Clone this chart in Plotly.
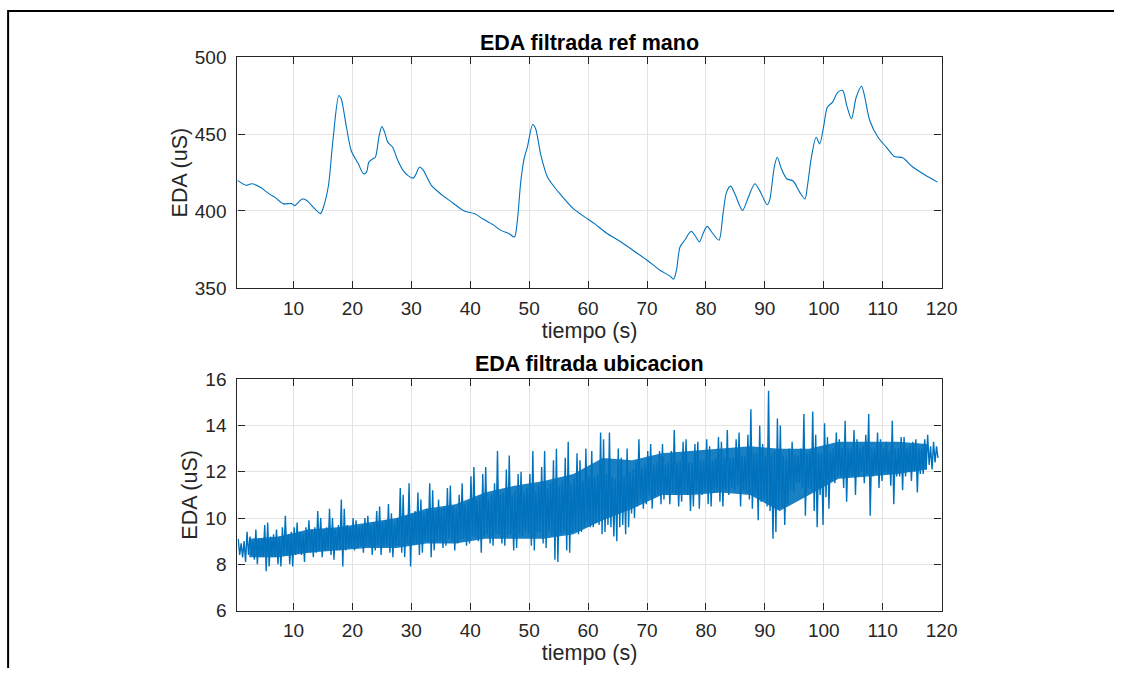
import plotly.graph_objects as go

# --- EDA from the hand reference sensor (smooth filtered signal) ---
t_mano = [0.5, 2.0, 2.9, 4.3, 6.0, 6.8, 8.25, 9.7, 10.2, 11.5, 12.2, 13.6, 14.6, 15.0,
          15.9, 16.7, 17.7, 18.1, 19.0, 19.8, 21.0, 21.9, 22.4, 22.8, 23.5, 23.9, 24.5,
          25.0, 25.5, 26.0, 26.8, 27.7, 28.6, 29.4, 30.3, 30.7, 31.4, 32.0, 33.4, 35.3,
          37.0, 39.0, 40.7, 42.1, 43.8, 45.2, 46.6, 47.5, 48.0, 48.6, 49.2, 49.7, 50.6,
          51.1, 52.0, 53.1, 54.5, 55.2, 57.5, 60.0, 61.1, 63.1, 65.4, 67.6, 70.0, 72.2,
          73.9, 74.5, 75.0, 75.6, 76.4, 77.5, 78.3, 78.9, 79.5, 80.2, 81.2, 82.2, 82.9,
          83.5, 84.2, 84.9, 86.2, 87.1, 88.3, 89.1, 90.4, 90.8, 91.6, 92.1, 92.8, 93.7,
          94.8, 95.9, 96.8, 97.2, 97.9, 98.7, 99.3, 100.0, 100.6, 101.5, 102.3, 103.2,
          103.9, 104.7, 105.5, 106.4, 106.9, 107.8, 109.2, 110.6, 112.0, 113.4, 115.1,
          117.1, 119.3]
eda_mano = [419.9, 416.7, 417.7, 415.6, 410.8, 409.0, 404.8, 404.8, 403.5, 407.8, 407.0,
            401.5, 398.3, 401.5, 415.6, 445.9, 475.1, 473.0, 454.5, 439.4, 430.7, 424.2,
            425.3, 431.8, 434.0, 435.0, 448.0, 455.0, 451.0, 444.8, 441.6, 433.0, 426.4,
            423.2, 421.4, 423.2, 428.6, 426.8, 416.7, 410.2, 405.4, 400.0, 398.3, 395.0,
            391.3, 387.4, 385.2, 383.1, 393.9, 419.9, 435.0, 441.6, 456.3, 453.5, 436.1,
            422.1, 414.5, 411.3, 401.5, 394.6, 391.8, 385.7, 380.3, 374.5, 368.0, 361.5,
            357.6, 355.6, 361.5, 376.6, 381.0, 386.8, 383.1, 379.9, 385.2, 390.0, 385.2,
            381.0, 398.3, 412.3, 416.2, 411.3, 400.4, 408.0, 417.7, 413.4, 404.1, 406.9,
            428.6, 435.0, 427.5, 421.0, 419.5, 412.3, 407.8, 415.6, 435.0, 448.0, 443.7,
            455.6, 467.5, 470.8, 476.8, 478.4, 468.6, 460.0, 474.0, 481.2, 475.1, 458.9,
            448.0, 441.6, 435.5, 434.6, 428.6, 423.6, 418.8]

# --- EDA from the location sensor: peak and trough of every half second (s = 1..119) ---
ubic_max = [9.1, 8.9, 9.0, 9.4, 9.2, 9.0, 9.5, 9.1, 9.1, 9.7, 9.8, 9.2, 9.3, 9.5, 9.2, 9.6,
            10.1, 9.3, 9.4, 9.6, 9.8, 9.4, 9.3, 9.6, 9.9, 9.5, 9.6, 10.3, 10.0, 9.5, 9.6, 10.4,
            10.0, 9.5, 9.7, 10.8, 10.4, 9.7, 9.6, 10.0, 9.9, 9.6, 9.7, 10.0, 10.1, 9.7, 9.8, 10.3,
            10.5, 9.8, 9.9, 10.6, 10.2, 9.8, 10.0, 11.3, 11.0, 10.1, 11.5, 10.2, 10.3, 11.1, 10.8, 10.2,
            10.4, 11.5, 11.2, 10.3, 10.8, 10.4, 10.5, 11.3, 11.4, 10.5, 10.4, 11.0, 11.5, 10.6, 10.7, 11.8,
            12.2, 10.8, 10.9, 11.9, 12.2, 10.8, 11.0, 11.5, 12.9, 11.0, 11.1, 12.1, 12.7, 11.0, 11.2, 11.9,
            12.0, 11.1, 11.3, 11.9, 12.9, 11.2, 11.4, 12.2, 12.9, 11.3, 11.5, 12.5, 13.0, 11.4, 11.6, 12.6,
            13.3, 11.5, 11.7, 12.8, 12.5, 11.6, 13.0, 11.8, 12.9, 11.8, 11.9, 13.7, 13.4, 11.9, 13.7, 11.8,
            11.7, 13.0, 12.6, 11.8, 13.0, 12.0, 12.1, 12.4, 13.4, 12.2, 12.3, 12.9, 13.2, 12.3, 12.4, 12.9,
            13.2, 12.3, 12.4, 12.9, 13.8, 12.4, 12.5, 13.3, 13.4, 12.4, 12.4, 13.2, 13.3, 12.5, 12.5, 13.4,
            13.1, 12.5, 12.6, 13.5, 13.3, 12.6, 13.8, 12.6, 12.6, 13.4, 13.7, 12.7, 12.7, 13.6, 14.7, 12.8,
            12.8, 14.0, 13.2, 12.7, 15.5, 12.8, 12.9, 14.3, 14.0, 12.7, 12.6, 13.0, 13.3, 12.7, 12.7, 13.0,
            14.5, 12.8, 12.9, 14.6, 13.6, 12.8, 12.8, 14.1, 13.5, 12.9, 13.0, 13.7, 13.4, 13.0, 14.2, 13.0,
            13.0, 13.8, 13.4, 13.0, 13.1, 13.6, 14.5, 13.0, 13.0, 13.7, 13.4, 13.0, 13.3, 12.9, 14.2, 13.0,
            13.0, 13.5, 13.5, 13.0, 13.1, 13.3, 13.4, 13.0, 13.0, 13.4, 13.6, 13.1, 13.3, 13.1]
ubic_min = [8.4, 8.3, 8.1, 8.4, 8.4, 8.2, 8.0, 8.3, 8.3, 7.7, 7.9, 8.3, 8.3, 8.0, 7.9, 8.4,
            8.4, 8.0, 7.9, 8.4, 8.5, 8.4, 8.1, 8.5, 8.5, 8.3, 8.5, 8.6, 8.3, 8.6, 8.6, 8.4,
            8.2, 8.6, 8.6, 7.9, 8.6, 8.7, 8.7, 8.6, 8.7, 8.8, 8.5, 8.8, 8.8, 8.4, 8.6, 8.8,
            8.4, 8.8, 8.8, 8.5, 8.3, 8.8, 8.8, 8.5, 8.3, 8.9, 7.9, 8.9, 8.9, 8.4, 8.5, 9.0,
            9.0, 8.3, 8.6, 9.0, 9.0, 8.7, 8.8, 9.1, 9.0, 8.6, 8.9, 9.1, 9.1, 8.8, 8.9, 9.2,
            9.2, 9.0, 8.5, 9.2, 9.3, 8.9, 8.8, 9.3, 9.3, 8.9, 8.8, 9.3, 9.3, 8.6, 8.7, 9.3,
            9.2, 9.4, 9.3, 8.8, 8.6, 9.4, 9.4, 8.9, 8.7, 9.4, 9.3, 8.2, 8.1, 9.3, 9.4, 8.6,
            8.5, 9.4, 9.5, 9.3, 9.4, 9.6, 9.8, 9.6, 9.6, 9.8, 9.7, 9.3, 9.4, 9.7, 9.6, 9.2,
            9.0, 9.6, 9.7, 9.3, 9.6, 10.2, 10.0, 10.5, 10.8, 10.4, 10.6, 11.0, 10.4, 10.9, 11.0, 10.6,
            10.8, 11.0, 10.6, 11.1, 11.0, 10.5, 10.7, 11.1, 11.0, 10.3, 10.5, 11.1, 10.4, 11.0, 11.1, 10.6,
            10.5, 11.1, 11.1, 10.7, 10.5, 11.2, 11.0, 11.3, 11.2, 11.4, 10.5, 11.2, 11.1, 10.8, 10.4, 11.0,
            9.9, 10.7, 10.8, 10.5, 10.3, 9.1, 9.4, 10.4, 10.5, 9.7, 10.6, 11.2, 11.1, 11.5, 11.5, 11.3,
            10.1, 11.3, 11.2, 10.3, 9.6, 11.0, 9.7, 10.9, 10.4, 11.6, 11.5, 11.8, 11.8, 11.3, 10.7, 11.8,
            11.8, 11.0, 11.8, 12.0, 11.5, 11.9, 10.1, 11.8, 11.9, 11.3, 11.6, 12.0, 11.9, 11.4, 10.6, 11.8,
            11.8, 11.2, 11.8, 12.0, 11.6, 12.0, 11.1, 11.9, 11.9, 12.1, 12.3, 12.1, 12.4, 12.6]
t_half = [0.75 + 0.5 * k for k in range(len(ubic_max))]

# Densest part of the location trace, every 5 s (bin centres 2.5 .. 117.5)
t_core = [2.5 + 5 * k for k in range(24)]
core_hi = [9.1, 9.2, 9.5, 9.6, 9.8, 10.0, 10.4, 10.6, 11.1, 11.4, 11.6, 11.9,
           12.6, 12.5, 12.8, 12.9, 13.0, 13.1, 13.0, 13.0, 13.3, 13.3, 13.3, 13.2]
core_lo = [8.3, 8.3, 8.5, 8.6, 8.7, 8.7, 8.9, 8.9, 9.1, 9.1, 9.1, 9.3,
           9.9, 10.4, 11.0, 11.0, 11.1, 11.0, 10.3, 11.0, 11.7, 11.8, 11.9, 12.1]

x_ticks = [10, 20, 30, 40, 50, 60, 70, 80, 90, 100, 110, 120]
y_ticks_mano = [350, 400, 450, 500]
y_ticks_ubic = [6, 8, 10, 12, 14, 16]

# Trace each half second from its peak down to its trough
ubic_x, ubic_y = [], []
for t, hi, lo in zip(t_half, ubic_max, ubic_min):
    ubic_x += [t - 0.125, t + 0.125]
    ubic_y += [hi, lo]

LINE = "#0072BD"
AX = "#262626"
FONT = "Liberation Sans, Arial, sans-serif"
TICK_SIZE = 19
LABEL_SIZE = 21.5

W, H = 1130, 679
# The captured page comes out slightly shrunk and shifted down, so layout
# positions are given in page pixels via this small correction
SX, OX = 0.986, 0.2
SY, OY = 0.971, 9.3


def px(x):
    return ((x - OX) / SX) / W


def py(y):
    return 1 - ((y - OY) / SY) / H


fig = go.Figure()
fig.add_trace(go.Scatter(x=t_mano, y=eda_mano, mode="lines",
                         line=dict(color=LINE, width=1.1, shape="spline", smoothing=0.8),
                         xaxis="x", yaxis="y", hoverinfo="skip"))
fig.add_trace(go.Scatter(x=t_core, y=core_lo, mode="lines", line=dict(width=0, color=LINE),
                         xaxis="x2", yaxis="y2", hoverinfo="skip"))
fig.add_trace(go.Scatter(x=t_core, y=core_hi, mode="lines", line=dict(width=0, color=LINE),
                         fill="tonexty", fillcolor="rgba(0,114,189,0.9)",
                         xaxis="x2", yaxis="y2", hoverinfo="skip"))
fig.add_trace(go.Scatter(x=ubic_x, y=ubic_y, mode="lines",
                         line=dict(color=LINE, width=1.4),
                         xaxis="x2", yaxis="y2", hoverinfo="skip"))

x0, x1 = px(237.7), px(942)


def axis_common():
    return dict(showline=True, linecolor=AX, linewidth=1.3, mirror="ticks",
                ticks="inside", ticklen=7, tickwidth=1.3, tickcolor=AX,
                showgrid=True, gridcolor="#e3e3e3", gridwidth=1, zeroline=False,
                tickfont=dict(family=FONT, size=TICK_SIZE, color=AX))


xa = axis_common()
xa.update(range=[0.5, 120], tickvals=x_ticks, domain=[x0, x1], ticklabelstandoff=3,
          title=dict(text="tiempo (s)", font=dict(family=FONT, size=LABEL_SIZE, color=AX),
                     standoff=4))
ya_title = dict(text="EDA (uS)", font=dict(family=FONT, size=LABEL_SIZE, color=AX), standoff=1)
fig.update_layout(
    xaxis=dict(xa, anchor="y"),
    yaxis=dict(axis_common(), range=[350, 500], tickvals=y_ticks_mano, ticklabelstandoff=6,
               domain=[py(287.7), py(56.7)], anchor="x", title=ya_title),
    xaxis2=dict(xa, anchor="y2"),
    yaxis2=dict(axis_common(), range=[6, 16], tickvals=y_ticks_ubic, ticklabelstandoff=6,
                domain=[py(611), py(379.3)], anchor="x2", title=ya_title),
)

titles = [("EDA filtrada ref mano", py(42)), ("EDA filtrada ubicacion", py(364))]
fig.update_layout(annotations=[
    dict(text=f"<b>{txt}</b>", x=(x0 + x1) / 2, y=yy, xref="paper", yref="paper",
         showarrow=False, xanchor="center", yanchor="middle",
         font=dict(family=FONT, size=LABEL_SIZE, color="#000000"))
    for txt, yy in titles
])

# Edges of the document table cell around the figure
fig.update_layout(shapes=[
    dict(type="line", xref="paper", yref="paper", x0=px(8.3), x1=px(8.3), y0=0, y1=1,
         line=dict(color="#000000", width=2)),
    dict(type="line", xref="paper", yref="paper", x0=px(8.3), x1=1, y0=1 - 1 / H, y1=1 - 1 / H,
         line=dict(color="#000000", width=2)),
])

fig.update_layout(width=W, height=H, margin=dict(l=0, r=0, t=0, b=0),
                  paper_bgcolor="white", plot_bgcolor="white", showlegend=False)
fig.write_html("out.html")
